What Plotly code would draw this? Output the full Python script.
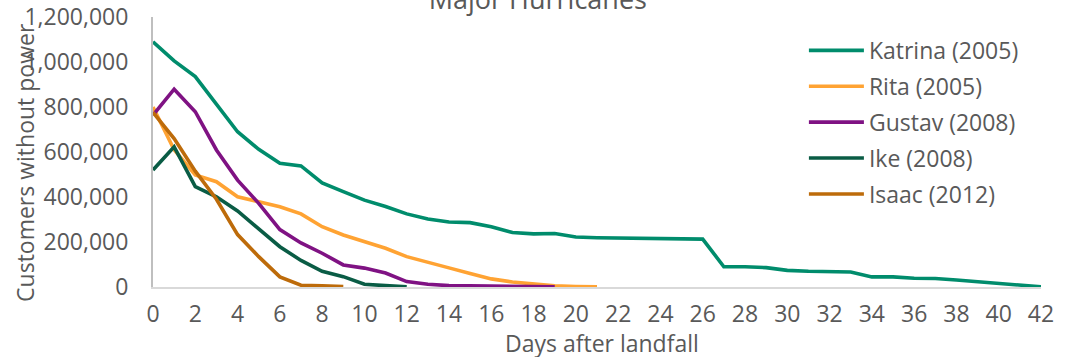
import plotly.graph_objects as go

# Customers without power, by day after landfall
katrina_days = list(range(0, 43))
katrina = [1090000, 1005000, 935000, 810000, 690000, 612000, 550000, 538000, 463000, 424000,
           386000, 358000, 325000, 302000, 289000, 286000, 268000, 242000, 236000, 238000,
           222000, 219000, 218000, 216000, 214000, 213000, 213000, 90000, 90000, 86000,
           74000, 70000, 69000, 67000, 45000, 45000, 39000, 38000, 31000, 24000,
           17000, 9000, 1000]

rita_days = list(range(0, 22))
rita = [800000, 610000, 498000, 468000, 401000, 379000, 357000, 325000, 268000, 231000,
        201000, 172000, 135000, 108000, 85000, 60000, 36000, 22000, 12000, 5000,
        2000, 1000]

gustav_days = list(range(0, 20))
gustav = [764000, 879000, 779000, 609000, 475000, 372000, 255000, 196000, 150000, 98000,
          84000, 62000, 24000, 12000, 6000, 5000, 4000, 3000, 2000, 1000]

ike_days = list(range(0, 13))
ike = [520000, 623000, 446000, 401000, 338000, 261000, 179000, 118000, 70000, 46000,
       12000, 6000, 1000]

isaac_days = list(range(0, 10))
isaac = [776000, 660000, 515000, 390000, 233000, 135000, 45000, 8000, 5000, 2000]

series = [
    ("Katrina (2005)", katrina_days, katrina, "#008C6C"),
    ("Rita (2005)", rita_days, rita, "#FFA333"),
    ("Gustav (2008)", gustav_days, gustav, "#7F1283"),
    ("Ike (2008)", ike_days, ike, "#0A5C45"),
    ("Isaac (2012)", isaac_days, isaac, "#BD6B0A"),
]

x_ticks = list(range(0, 43, 2))
y_ticks = list(range(0, 1200001, 200000))

FONT = "Open Sans"
GREY = "#595959"

fig = go.Figure()
for name, days, values, color in series:
    fig.add_trace(go.Scatter(
        x=days, y=values, mode="lines", name=name, legendgroup=name,
        line=dict(color=color, width=3.6),
    ))

fig.update_layout(
    width=1065, height=357,
    margin=dict(l=153, r=24, t=17, b=70, autoexpand=False),
    paper_bgcolor="white", plot_bgcolor="white",
    font=dict(family=FONT, size=23, color=GREY),
    title=dict(text="Major Hurricanes", x=0.505, xref="container", xanchor="center",
               y=1, yref="container", yanchor="middle",
               font=dict(family=FONT, size=27, color=GREY)),
    showlegend=True,
    legend=dict(x=0.733, xanchor="left", y=0.956, yanchor="top",
                bgcolor="rgba(0,0,0,0)", itemwidth=55, tracegroupgap=3,
                font=dict(family=FONT, size=23, color=GREY)),
    xaxis=dict(range=[0, 42], tickmode="array", tickvals=x_ticks, automargin=False,
               showgrid=False, zeroline=False, showline=True, linecolor="#D9D9D9",
               linewidth=2, ticks="", ticklabelstandoff=5),
    yaxis=dict(range=[0, 1200000], tickmode="array", tickvals=y_ticks, tickformat=",",
               automargin=False,
               showgrid=False, zeroline=False, showline=True, linecolor="#BFBFBF",
               linewidth=2, ticks="", ticklabelstandoff=18),
    annotations=[
        dict(text="Customers without power", textangle=-90, xref="paper", yref="paper",
             x=-0.144, y=0.46, xanchor="center", yanchor="middle", showarrow=False,
             font=dict(family=FONT, size=23, color=GREY)),
        dict(text="Days after landfall", xref="paper", yref="paper",
             x=0.506, y=-0.207, xanchor="center", yanchor="middle", showarrow=False,
             font=dict(family=FONT, size=23, color=GREY)),
    ],
)

fig.write_html("out.html")
